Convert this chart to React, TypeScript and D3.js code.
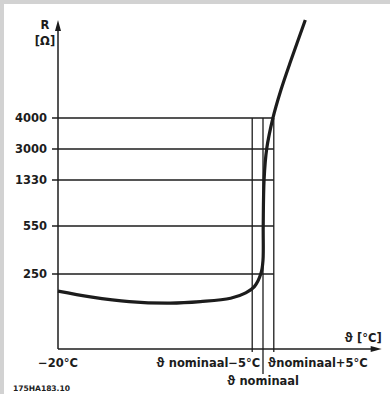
import { useEffect, useRef } from 'react';
import * as d3 from 'd3';

// resistance ticks (ohm) on the vertical axis
const rTicks = [250, 550, 1330, 3000, 4000];
const rAxisTop = 7160;

// temperatures (degC)
const tempStart = -20;
const tempNominal = 75;
const tempMarks = [tempNominal - 5, tempNominal, tempNominal + 5];
const tempAxisEnd = 130;

// PTC characteristic
const curveTemp = [-20, -5, 13, 32, 46, 60, 67, 71, 74.1, 75, 75.1, 75.5, 76.7, 79.6, 83.3, 88.0, 94.6];
const curveR = [193, 174, 158, 153, 158, 169, 187, 208, 256, 337, 550, 1330, 3000, 4000, 4903, 5871, 7161];

const theta = 'ϑ';
const labelNominalMinus = ' nominaal−5°C';
const labelNominal = ' nominaal';
const labelNominalPlus = 'nominaal+5°C';
const figureCode = '175HA183.10';

export default function App() {
  const svgRef = useRef<SVGSVGElement>(null);

  useEffect(() => {
    if (!svgRef.current) return;
    const width = 390;
    const height = 394;
    const ink = '#1c1c1c';
    const font = '"DejaVu Sans", sans-serif';
    const thetaFont = '"Noto Sans", "DejaVu Sans", sans-serif';

    const svg = d3.select(svgRef.current);
    svg.selectAll('*').remove();

    svg.append('rect').attr('width', width).attr('height', height).attr('fill', '#d2d2d2');
    svg.append('rect').attr('x', 4).attr('y', 4).attr('width', width - 4).attr('height', height - 4).attr('fill', '#fff');

    const x = d3.scaleLinear().domain([tempStart, tempNominal]).range([58, 263]);
    // the scale of the original is schematic: piecewise between the ticks
    const y = d3
      .scaleLinear()
      .domain([0, ...rTicks])
      .range([349, 274, 226, 180, 149, 118]);

    const x0 = x(tempStart);
    const y0 = y(0);
    const xRight = x(tempMarks[2]);
    const yTop = y(rTicks[rTicks.length - 1]);

    // horizontal grid lines with small ticks left of the axis
    svg.selectAll('.hgrid')
      .data(rTicks)
      .enter()
      .append('line')
      .attr('x1', x0 - 6)
      .attr('x2', xRight)
      .attr('y1', (d) => y(d))
      .attr('y2', (d) => y(d))
      .attr('stroke', ink)
      .attr('stroke-width', 1.3);

    // vertical lines at nominal -5, nominal, +5
    svg.selectAll('.vgrid')
      .data(tempMarks)
      .enter()
      .append('line')
      .attr('x1', (d) => x(d))
      .attr('x2', (d) => x(d))
      .attr('y1', yTop)
      .attr('y2', (d, i) => (i === 1 ? y0 + 25 : y0 + 3))
      .attr('stroke', ink)
      .attr('stroke-width', 1.3);

    // tick labels
    svg.selectAll('.rlabel')
      .data(rTicks)
      .enter()
      .append('text')
      .attr('x', x0 - 11)
      .attr('y', (d) => y(d) + 4.2)
      .attr('text-anchor', 'end')
      .attr('font-family', font)
      .attr('font-weight', 'bold')
      .attr('font-size', 11.5)
      .attr('fill', ink)
      .text((d) => String(d));

    // axes
    const yAxisTop = y(rAxisTop);
    const xAxisEnd = x(tempAxisEnd);
    svg.append('line')
      .attr('x1', x0).attr('x2', x0)
      .attr('y1', y0).attr('y2', yAxisTop + 6)
      .attr('stroke', ink).attr('stroke-width', 1.5);
    svg.append('line')
      .attr('x1', x0).attr('x2', xAxisEnd - 6)
      .attr('y1', y0).attr('y2', y0)
      .attr('stroke', ink).attr('stroke-width', 1.5);
    svg.append('path')
      .attr('d', `M${x0},${yAxisTop} L${x0 - 3},${yAxisTop + 11} L${x0 + 3},${yAxisTop + 11} Z`)
      .attr('fill', ink);
    svg.append('path')
      .attr('d', `M${xAxisEnd},${y0} L${xAxisEnd - 11},${y0 - 3} L${xAxisEnd - 11},${y0 + 3} Z`)
      .attr('fill', ink);

    // curve
    const pts: [number, number][] = curveTemp.map((t, i) => [t, curveR[i]]);
    const line = d3
      .line<[number, number]>()
      .x((d) => x(d[0]))
      .y((d) => y(d[1]))
      .curve(d3.curveCatmullRom.alpha(0.5));
    svg.append('path')
      .attr('d', line(pts) || '')
      .attr('fill', 'none')
      .attr('stroke', ink)
      .attr('stroke-width', 3.2)
      .attr('stroke-linecap', 'butt');

    const addText = (tx: number, ty: number, s: string, anchor: string, size = 11.5, withTheta = false) => {
      const t = svg.append('text')
        .attr('x', tx)
        .attr('y', ty)
        .attr('text-anchor', anchor)
        .attr('font-family', font)
        .attr('font-weight', 'bold')
        .attr('font-size', size)
        .attr('fill', ink);
      if (withTheta) {
        t.append('tspan').attr('font-family', thetaFont).text(theta);
      }
      t.append('tspan').text(s);
      return t;
    };

    // axis titles
    addText(x0 - 13, 29, 'R', 'middle');
    addText(x0 - 13, 45, '[Ω]', 'middle');
    addText(xAxisEnd, y0 - 7, ' [°C]', 'end', 11.5, true);

    // x labels
    addText(x0, y0 + 18, '−20°C', 'middle');
    addText(x(tempMarks[0]) + 8, y0 + 18, labelNominalMinus, 'end', 11.5, true);
    addText(x(tempMarks[2]) - 6, y0 + 18, labelNominalPlus, 'start', 11.5, true);
    addText(x(tempMarks[1]), y0 + 36, labelNominal, 'middle', 11.5, true);

    addText(13, 391, figureCode, 'start', 7.6).attr('textLength', 57);

    return () => {
      svg.selectAll('*').remove();
    };
  }, []);

  return (
    <div style={{ position: 'absolute', left: 0, top: 0 }}>
      <svg ref={svgRef} width={390} height={394} style={{ display: 'block' }} />
    </div>
  );
}
